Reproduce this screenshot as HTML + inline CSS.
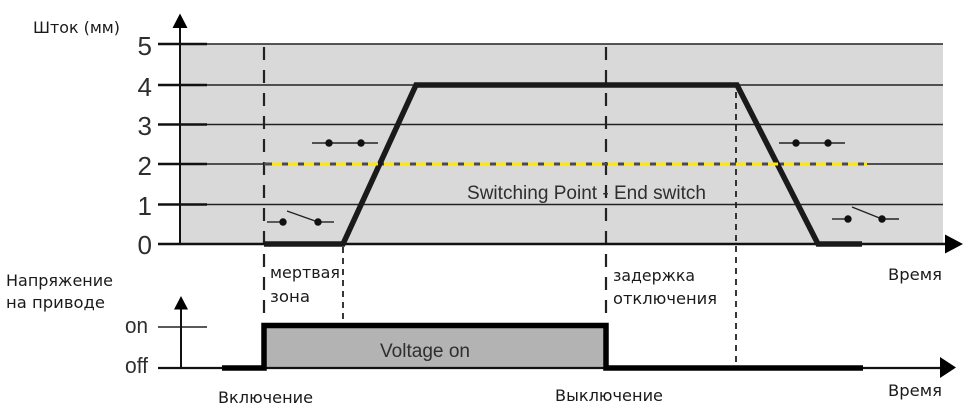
<!DOCTYPE html>
<html>
<head>
<meta charset="utf-8">
<style>
  html, body { margin: 0; padding: 0; background: #ffffff; }
  svg { display: block; }
  .cy { font-family: "DejaVu Sans", "Liberation Sans", "Noto Sans CJK SC", sans-serif; font-size: 16px; fill: #1a1a1a; }
  .ar { font-family: "Liberation Sans", sans-serif; fill: #2e2e2e; }
</style>
</head>
<body>
<svg width="975" height="409" viewBox="0 0 975 409" xmlns="http://www.w3.org/2000/svg">
  <rect x="0" y="0" width="975" height="409" fill="#ffffff"/>

  <!-- grey plot area -->
  <rect x="180" y="44" width="763" height="200" fill="#d9d9d9"/>

  <!-- grid lines -->
  <g stroke="#222" stroke-width="1.4">
    <line x1="180" y1="44" x2="943" y2="44"/>
    <line x1="180" y1="85" x2="943" y2="85"/>
    <line x1="180" y1="124.5" x2="943" y2="124.5"/>
    <line x1="180" y1="164" x2="943" y2="164"/>
    <line x1="180" y1="204.5" x2="943" y2="204.5"/>
  </g>
  <!-- ticks -->
  <g stroke="#111" stroke-width="2.4">
    <line x1="158" y1="44" x2="207" y2="44"/>
    <line x1="158" y1="85" x2="207" y2="85"/>
    <line x1="158" y1="124.5" x2="207" y2="124.5"/>
    <line x1="158" y1="164" x2="207" y2="164"/>
    <line x1="158" y1="204.5" x2="207" y2="204.5"/>
  </g>

  <!-- dashed verticals -->
  <g stroke="#222" stroke-width="2.2" fill="none">
    <line x1="264" y1="47" x2="264" y2="328" stroke-dasharray="13 10"/>
    <line x1="343" y1="247" x2="343" y2="326" stroke-dasharray="6 5" stroke-width="1.8"/>
    <line x1="606" y1="47" x2="606" y2="328" stroke-dasharray="13 10"/>
    <line x1="736" y1="92" x2="736" y2="367" stroke-dasharray="6 5" stroke-width="1.8"/>
  </g>

  <!-- bottom axis top chart -->
  <line x1="158" y1="244" x2="947" y2="244" stroke="#111" stroke-width="2.5"/>
  <polygon points="945,234.5 963,244 945,253.5" fill="#000"/>

  <!-- vertical axis top -->
  <line x1="180" y1="244" x2="180" y2="26" stroke="#111" stroke-width="2"/>
  <polygon points="172.5,28 180,13.5 187.5,28" fill="#000"/>

  <!-- switching point line -->
  <line x1="264" y1="164" x2="867" y2="164" stroke="#4a4a4a" stroke-width="3"/>

  <!-- trapezoid -->
  <polyline points="264,244 343,244 416,85 737,85 818,244 862,244" fill="none" stroke="#1a1a1a" stroke-width="5.5" stroke-linejoin="miter"/>

  <line x1="272" y1="164" x2="867" y2="164" stroke="#ffe800" stroke-width="3" stroke-dasharray="10 6"/>

  <!-- switches -->
  <g stroke="#222" stroke-width="1.4" fill="#111">
    <line x1="267" y1="222" x2="283" y2="222"/>
    <line x1="287" y1="211" x2="318" y2="222"/>
    <line x1="318" y1="222" x2="334" y2="222"/>
    <circle cx="283" cy="222" r="3.7" stroke="none"/>
    <circle cx="318" cy="222" r="3.7" stroke="none"/>
    <line x1="312" y1="143" x2="378" y2="143"/>
    <circle cx="329" cy="143" r="3.7" stroke="none"/>
    <circle cx="361" cy="143" r="3.7" stroke="none"/>
    <line x1="779" y1="143" x2="845" y2="143"/>
    <circle cx="796" cy="143" r="3.7" stroke="none"/>
    <circle cx="828" cy="143" r="3.7" stroke="none"/>
    <line x1="832" y1="219" x2="848" y2="219"/>
    <line x1="852" y1="207" x2="882" y2="219"/>
    <line x1="882" y1="219" x2="899" y2="219"/>
    <circle cx="848" cy="219" r="3.7" stroke="none"/>
    <circle cx="882" cy="219" r="3.7" stroke="none"/>
  </g>

  <!-- numbers -->
  <g class="ar" font-size="26" text-anchor="end">
    <text x="152" y="55">5</text>
    <text x="152" y="96">4</text>
    <text x="152" y="135">3</text>
    <text x="152" y="175">2</text>
    <text x="152" y="215">1</text>
    <text x="152" y="254">0</text>
  </g>

  <text class="ar" x="467" y="199" font-size="19" textLength="239" lengthAdjust="spacingAndGlyphs">Switching Point - End switch</text>

  <!-- lower chart -->
  <rect x="264" y="327" width="342" height="41" fill="#b3b3b3"/>
  <line x1="158" y1="327" x2="207" y2="327" stroke="#222" stroke-width="1.5"/>
  <line x1="158" y1="368" x2="942" y2="368" stroke="#111" stroke-width="2.2"/>
  <polygon points="940,357 956,367.5 940,378" fill="#000"/>
  <line x1="181" y1="368" x2="181" y2="307" stroke="#111" stroke-width="2"/>
  <polygon points="174,309.5 181,296 188,309.5" fill="#000"/>
  <polyline points="222,368 264,368 264,325.5 606,325.5 606,368 863,368" fill="none" stroke="#000" stroke-width="5.5" stroke-linejoin="miter"/>

  <text class="ar" x="380" y="357" font-size="19" textLength="90" lengthAdjust="spacingAndGlyphs">Voltage on</text>
  <text class="ar" x="125" y="333" font-size="22" textLength="23" lengthAdjust="spacingAndGlyphs">on</text>
  <text class="ar" x="125" y="373" font-size="22" textLength="23" lengthAdjust="spacingAndGlyphs">off</text>

  <!-- Cyrillic labels -->
  <text class="cy" x="33" y="33" font-size="15" textLength="87" lengthAdjust="spacingAndGlyphs">Шток (мм)</text>
  <text class="cy" x="6" y="286" textLength="107" lengthAdjust="spacingAndGlyphs">Напряжение</text>
  <text class="cy" x="6" y="308" textLength="99" lengthAdjust="spacingAndGlyphs">на приводе</text>
  <text class="cy" x="270" y="278" textLength="70" lengthAdjust="spacingAndGlyphs">мертвая</text>
  <text class="cy" x="270" y="302" textLength="40" lengthAdjust="spacingAndGlyphs">зона</text>
  <text class="cy" x="613" y="281" textLength="82" lengthAdjust="spacingAndGlyphs">задержка</text>
  <text class="cy" x="613" y="304" textLength="104" lengthAdjust="spacingAndGlyphs">отключения</text>
  <text class="cy" x="888" y="280" textLength="54" lengthAdjust="spacingAndGlyphs">Время</text>
  <text class="cy" x="888" y="396" textLength="54" lengthAdjust="spacingAndGlyphs">Время</text>
  <text class="cy" x="218" y="403" textLength="95" lengthAdjust="spacingAndGlyphs">Включение</text>
  <text class="cy" x="555" y="401" textLength="108" lengthAdjust="spacingAndGlyphs">Выключение</text>
</svg>
</body>
</html>
